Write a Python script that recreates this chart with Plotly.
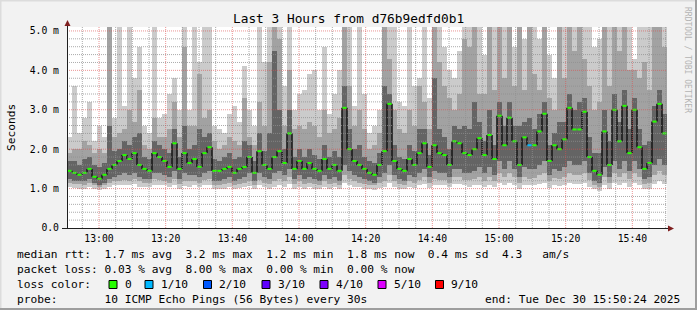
import plotly.graph_objects as go
import pandas as pd

# ---------------- data ----------------
t_start = "2025-12-30 12:50:24"
t_end = "2025-12-30 15:50:24"
step_seconds = 90

median = [1.45,1.4,1.35,1.4,1.5,1.3,1.25,1.35,1.5,1.6,1.7,1.85,1.75,1.9,1.6,1.5,1.45,1.9,1.8,1.7,
          1.55,2.15,1.5,1.9,1.65,1.75,1.55,1.9,2.05,1.45,1.45,1.5,1.55,1.4,1.5,1.55,1.8,1.4,1.95,1.6,
          1.5,1.8,1.95,1.65,2.4,1.5,1.7,1.5,1.65,1.5,1.45,1.75,1.5,1.6,1.45,3.05,2.0,1.7,1.6,1.5,
          1.4,1.35,1.6,1.95,3.15,1.7,1.5,1.45,1.75,1.6,1.9,2.15,1.55,2.1,1.9,1.85,1.6,2.2,2.15,1.9,
          1.85,2.0,2.28,1.85,2.36,1.75,2.85,2.1,2.8,2.2,1.6,2.3,2.1,2.1,2.45,2.9,1.7,2.1,2.0,2.25,
          3.05,2.5,2.5,2.95,1.8,1.45,1.35,2.45,1.6,3.0,2.2,3.1,1.9,3.0,2.05,1.5,1.65,2.7,3.15,2.4]

ping_max = [2.3,3.6,2.4,2.8,3.2,2.2,2.6,2.3,5.2,2.8,5.2,3.1,5.2,3.8,4.6,2.6,2.4,5.2,2.8,2.9,
            3.4,3.8,3.0,5.2,3.0,5.2,4.2,5.2,5.2,2.6,2.5,2.4,2.9,3.1,2.7,4.1,3.0,2.6,5.2,4.2,
            5.2,5.2,5.2,3.6,5.2,3.0,3.4,3.5,3.9,4.0,3.0,4.6,2.9,3.4,4.0,5.2,5.2,3.1,5.2,3.4,
            2.4,2.6,3.0,5.2,5.2,5.2,3.2,3.1,5.2,3.6,3.8,5.2,3.3,5.2,5.2,4.6,4.0,3.8,4.5,5.2,
            5.2,5.2,5.2,4.4,5.2,5.2,5.2,5.2,5.2,4.6,5.2,4.8,5.2,5.2,4.8,5.2,4.4,3.8,5.2,5.2,
            5.2,5.2,5.2,5.2,5.2,4.6,4.8,5.2,5.2,5.2,5.2,5.2,5.2,4.3,5.2,5.2,5.2,5.2,5.2,5.2]

ping_hi = [1.9,2.0,2.0,2.2,2.1,1.9,2.0,1.9,5.2,2.3,2.4,2.5,3.0,2.7,3.5,2.1,2.0,2.8,2.3,2.3,
           2.5,3.2,2.3,4.6,2.6,2.6,3.9,2.8,3.0,2.2,2.0,2.1,2.3,2.2,2.1,3.3,2.3,2.1,3.2,2.6,
           4.2,5.2,4.8,2.6,4.0,2.5,2.6,2.5,2.7,2.6,2.3,3.0,2.4,2.5,2.8,5.2,3.6,2.6,3.0,2.5,
           2.0,2.1,2.4,5.2,4.3,3.0,2.5,2.4,3.0,2.6,3.6,3.2,2.5,5.2,4.2,3.6,3.3,3.0,3.4,4.8,
           4.6,5.2,3.4,3.4,5.2,3.5,5.2,3.8,5.2,3.6,5.2,3.5,5.2,3.9,3.5,5.2,3.3,3.0,5.2,3.8,
           5.2,4.5,5.2,4.3,3.6,3.0,3.2,5.2,3.6,5.2,4.5,5.2,4.0,4.0,3.8,4.2,3.5,5.2,5.2,4.6]

ping_mid_hi = [1.7,1.7,1.6,1.75,1.8,1.6,1.55,1.65,2.6,1.95,2.0,2.2,2.1,2.3,2.4,1.8,1.75,2.2,2.1,2.0,
               1.9,2.5,1.8,2.6,2.0,2.1,2.5,2.3,2.4,1.75,1.7,1.8,1.9,1.75,1.8,2.2,2.1,1.7,2.4,1.95,
               2.4,4.5,3.0,2.0,3.0,1.8,2.0,1.8,2.0,1.85,1.75,2.1,1.8,1.95,1.8,3.6,2.5,2.0,2.1,1.8,
               1.7,1.65,1.9,3.6,3.4,2.1,1.8,1.75,2.1,1.95,2.5,2.5,1.85,3.8,2.5,2.3,2.0,2.6,2.5,2.6,
               2.5,3.2,2.7,2.2,3.0,2.1,3.2,2.6,3.2,2.6,2.6,2.7,2.8,2.5,2.9,3.2,2.1,2.4,2.7,2.7,
               3.4,3.0,3.2,3.3,2.3,1.9,1.9,3.0,2.2,3.4,2.7,3.5,2.5,3.3,2.5,2.1,2.2,3.1,3.5,2.9]

ping_mid_lo = [1.25,1.2,1.2,1.2,1.25,1.15,1.1,1.15,1.25,1.3,1.35,1.4,1.35,1.4,1.3,1.25,1.25,1.4,1.4,1.35,
               1.3,1.45,1.25,1.4,1.35,1.35,1.3,1.4,1.45,1.2,1.2,1.25,1.3,1.2,1.25,1.3,1.4,1.2,1.4,1.3,
               1.25,1.4,1.45,1.35,1.5,1.25,1.35,1.25,1.3,1.25,1.2,1.35,1.25,1.3,1.2,1.6,1.45,1.35,1.3,1.25,
               1.2,1.15,1.3,1.4,1.6,1.35,1.25,1.2,1.35,1.3,1.4,1.5,1.3,1.45,1.4,1.4,1.3,1.5,1.5,1.4,
               1.4,1.45,1.55,1.4,1.55,1.35,1.7,1.5,1.7,1.5,1.3,1.55,1.5,1.5,1.6,1.7,1.35,1.5,1.45,1.55,
               1.7,1.6,1.6,1.7,1.4,1.2,1.15,1.55,1.3,1.7,1.5,1.7,1.45,1.7,1.5,1.25,1.3,1.6,1.75,1.6]

ping_lo = [1.15,1.12,1.12,1.1,1.15,1.08,1.05,1.08,1.15,1.18,1.2,1.22,1.2,1.25,1.18,1.15,1.15,1.25,1.22,1.2,
           1.15,1.25,1.12,1.2,1.18,1.2,1.15,1.22,1.25,1.1,1.1,1.12,1.15,1.1,1.12,1.15,1.2,1.1,1.22,1.15,
           1.12,1.2,1.25,1.18,1.3,1.12,1.2,1.12,1.15,1.12,1.1,1.2,1.12,1.15,1.1,1.35,1.25,1.18,1.15,1.12,
           1.1,1.08,1.15,1.2,1.35,1.2,1.12,1.1,1.2,1.15,1.22,1.3,1.15,1.25,1.22,1.22,1.15,1.3,1.3,1.22,
           1.22,1.25,1.3,1.2,1.3,1.18,1.4,1.3,1.4,1.3,1.15,1.3,1.25,1.28,1.35,1.4,1.18,1.28,1.25,1.3,
           1.4,1.35,1.35,1.4,1.22,1.1,1.05,1.3,1.15,1.4,1.3,1.4,1.25,1.4,1.3,1.12,1.15,1.35,1.45,1.35]

ping_min = [1.05,1.02,1.0,1.0,1.05,0.98,0.97,1.0,1.05,1.08,1.1,1.1,1.08,1.12,1.05,1.05,1.04,1.1,1.1,1.08,
            1.05,1.1,1.0,1.06,1.05,1.08,1.03,1.08,1.1,1.0,0.99,1.0,1.04,1.0,1.02,1.03,1.06,1.0,1.08,1.03,
            1.0,1.05,1.08,1.05,1.12,1.0,1.05,1.0,1.03,1.0,0.99,1.05,1.0,1.03,0.99,1.15,1.1,1.05,1.03,1.0,
            0.99,0.97,1.02,1.05,1.15,1.05,1.0,0.99,1.05,1.02,1.08,1.12,1.02,1.1,1.08,1.08,1.03,1.12,1.12,1.08,
            1.05,1.08,1.1,1.05,1.1,1.03,1.15,1.1,1.15,1.1,1.0,1.1,1.08,1.08,1.12,1.15,1.02,1.08,1.06,1.1,
            1.15,1.12,1.12,1.15,1.05,0.98,0.95,1.1,1.0,1.15,1.1,1.15,1.05,1.15,1.08,1.0,1.0,1.12,1.2,1.12]

# lost pings (out of 10) per step
loss = [0] * 92 + [1] + [0] * 27

loss_labels = ["0", "1/10", "2/10", "3/10", "4/10", "5/10", "9/10"]
loss_colors = ["#26ff00", "#00b8ff", "#0059ff", "#5e00ff", "#7e00ff", "#dd00ff", "#ff0000"]

y_tick_vals = [0, 1, 2, 3, 4, 5]
y_tick_text = ["0.0", "1.0 m", "2.0 m", "3.0 m", "4.0 m", "5.0 m"]
x_tick_text = ["13:00", "13:20", "13:40", "14:00", "14:20", "14:40", "15:00", "15:20", "15:40"]

title_text = "Last 3 Hours from d76b9edfd0b1"
line_rtt = "median rtt:  1.7 ms avg  3.2 ms max  1.2 ms min  1.8 ms now  0.4 ms sd  4.3   am/s"
line_loss = "packet loss: 0.03 % avg  8.00 % max  0.00 % min  0.00 % now"
line_color = "loss color:"
line_probe = "probe:       10 ICMP Echo Pings (56 Bytes) every 30s"
line_end = "end: Tue Dec 30 15:50:24 2025"

# ---------------- layout geometry ----------------
W, H = 697, 310
PL, PR, PT, PB = 67, 667, 27, 228
PW, PH = PR - PL, PB - PT
FONT = "DejaVu Sans Mono"


def px(xp):
    return (xp - PL) / PW


def py(yp):
    return (PB - yp) / PH


def nb(s):
    return s.replace(" ", "\u00a0")


n = len(median)
t0 = pd.Timestamp(t_start)
t1 = pd.Timestamp(t_end)
centers = [t0 + pd.Timedelta(seconds=step_seconds * (i + 0.5)) for i in range(n)]
bar_w = step_seconds * 1000

fig = go.Figure()


def band(lo, hi, color):
    fig.add_trace(go.Bar(
        x=centers, y=[h - l for l, h in zip(lo, hi)], base=lo, width=bar_w,
        marker=dict(color=color, line=dict(width=0)), hoverinfo="skip", showlegend=False))


band(ping_min, ping_max, "#cbcbcb")
band(ping_lo, ping_hi, "#a2a2a2")
band(ping_mid_lo, ping_mid_hi, "#646464")

# vertical black connectors between consecutive medians (at step boundaries)
cx, cy = [], []
for i in range(n - 1):
    b = t0 + pd.Timedelta(seconds=step_seconds * (i + 1))
    cx += [b, b, None]
    cy += [median[i], median[i + 1], None]
fig.add_trace(go.Scatter(x=cx, y=cy, mode="lines", line=dict(color="#1a1a1a", width=1.6),
                         hoverinfo="skip", showlegend=False, connectgaps=False))

# median dashes coloured by loss
fig.add_trace(go.Scatter(
    x=centers, y=median, mode="markers",
    marker=dict(symbol="line-ew", size=3,
                line=dict(width=2, color=[loss_colors[l] for l in loss])),
    hoverinfo="skip", showlegend=False))

shapes = []
# grid (drawn over data like rrdtool)
minor_col = "rgba(143,143,143,0.75)"
major_col = "rgba(222,79,79,0.6)"
k = 1
while k * 0.2 < 5.1:
    v = round(k * 0.2, 1)
    major = abs(v - round(v)) < 1e-9
    shapes.append(dict(type="line", xref="paper", yref="y", x0=0, x1=1, y0=v, y1=v, layer="above",
                       line=dict(color=major_col if major else minor_col, width=1, dash="1px,1px")))
    k += 1
first_tick = pd.Timestamp("2025-12-30 12:55:00")
t = first_tick
while t < t1:
    major = (t.minute % 20 == 0)
    shapes.append(dict(type="line", xref="x", yref="paper", x0=t, x1=t, y0=0, y1=1, layer="above",
                       line=dict(color=major_col if major else minor_col, width=1, dash="1px,1px")))
    t += pd.Timedelta(minutes=5)

axis_col = "#1f1f1f"
arrow_col = "#7f1f1f"
# axes
shapes.append(dict(type="line", xref="paper", yref="paper", x0=px(67.5), x1=px(67.5), y0=py(229), y1=py(24),
                   line=dict(color=axis_col, width=1), layer="above"))
shapes.append(dict(type="line", xref="paper", yref="paper", x0=px(62), x1=px(670), y0=py(228.5), y1=py(228.5),
                   line=dict(color=axis_col, width=1), layer="above"))
# arrows
shapes.append(dict(type="path", xref="paper", yref="paper",
                   path=f"M {px(64.5)} {py(26)} L {px(70.5)} {py(26)} L {px(67.5)} {py(20)} Z",
                   fillcolor=arrow_col, line=dict(width=0), layer="above"))
shapes.append(dict(type="path", xref="paper", yref="paper",
                   path=f"M {px(668)} {py(225.5)} L {px(668)} {py(231.5)} L {px(674)} {py(228.5)} Z",
                   fillcolor=arrow_col, line=dict(width=0), layer="above"))
# 3d frame
shapes.append(dict(type="rect", xref="paper", yref="paper", x0=px(0), x1=px(W), y0=py(0), y1=py(1.5),
                   fillcolor="#dcdcdc", line=dict(width=0), layer="above"))
shapes.append(dict(type="rect", xref="paper", yref="paper", x0=px(0), x1=px(1.5), y0=py(0), y1=py(H),
                   fillcolor="#dcdcdc", line=dict(width=0), layer="above"))
shapes.append(dict(type="rect", xref="paper", yref="paper", x0=px(W - 2), x1=px(W), y0=py(0), y1=py(H),
                   fillcolor="#9e9e9e", line=dict(width=0), layer="above"))
shapes.append(dict(type="rect", xref="paper", yref="paper", x0=px(0), x1=px(W), y0=py(H - 2), y1=py(H),
                   fillcolor="#9e9e9e", line=dict(width=0), layer="above"))

annotations = []
FS = 11.2
row_y = [254.5, 269.5, 284.5, 299.5]


def txt(s, xp, yp, size=FS, anchor="left", color="#000000", angle=0):
    annotations.append(dict(text=nb(s), xref="paper", yref="paper", x=px(xp), y=py(yp),
                            xanchor=anchor, yanchor="middle", showarrow=False, borderpad=0,
                            textangle=angle, font=dict(family=FONT, size=size, color=color)))


txt(title_text, 348.5, 19, size=12.8, anchor="center")
txt("Seconds", 11, 128, size=11.2, anchor="center", angle=-90)
txt("RRDTOOL / TOBI OETIKER", 688, 60, size=8, anchor="center", color="#b4b4b4", angle=90)
txt(line_rtt, 16, row_y[0])
txt(line_loss, 16, row_y[1])
txt(line_color, 16, row_y[2])
txt(line_probe, 16, row_y[3])
txt(line_end, 681, row_y[3], anchor="right")

sq_x = [109, 145, 203.5, 262, 320, 378, 435.5]
for sx, lab, col in zip(sq_x, loss_labels, loss_colors):
    shapes.append(dict(type="rect", xref="paper", yref="paper", x0=px(sx), x1=px(sx + 8),
                       y0=py(row_y[2] - 4), y1=py(row_y[2] + 4), fillcolor=col,
                       line=dict(color="#000000", width=1), layer="above"))
    txt(lab, sx + 14.5, row_y[2])

x_tick_vals = [pd.Timestamp("2025-12-30 13:00:00") + pd.Timedelta(minutes=20 * i) for i in range(len(x_tick_text))]

fig.update_layout(
    width=W, height=H,
    margin=dict(l=PL, r=W - PR, t=PT, b=H - PB, autoexpand=False),
    paper_bgcolor="#f2f2f2", plot_bgcolor="#ffffff",
    barmode="overlay", bargap=0, showlegend=False,
    font=dict(family=FONT, color="#000000"),
    shapes=shapes, annotations=annotations,
    xaxis=dict(type="date", range=[t0, t1], tickvals=x_tick_vals, ticktext=x_tick_text,
               showgrid=False, zeroline=False, showline=False, ticks="", ticklabelstandoff=3,
               tickfont=dict(family=FONT, size=9.75, color="#000000"), fixedrange=True),
    yaxis=dict(range=[0, 5.1], tickvals=y_tick_vals, ticktext=y_tick_text,
               showgrid=False, zeroline=False, showline=False, ticks="", ticklabelstandoff=7,
               tickfont=dict(family=FONT, size=9.75, color="#000000"), fixedrange=True),
)

fig.write_html("out.html")
